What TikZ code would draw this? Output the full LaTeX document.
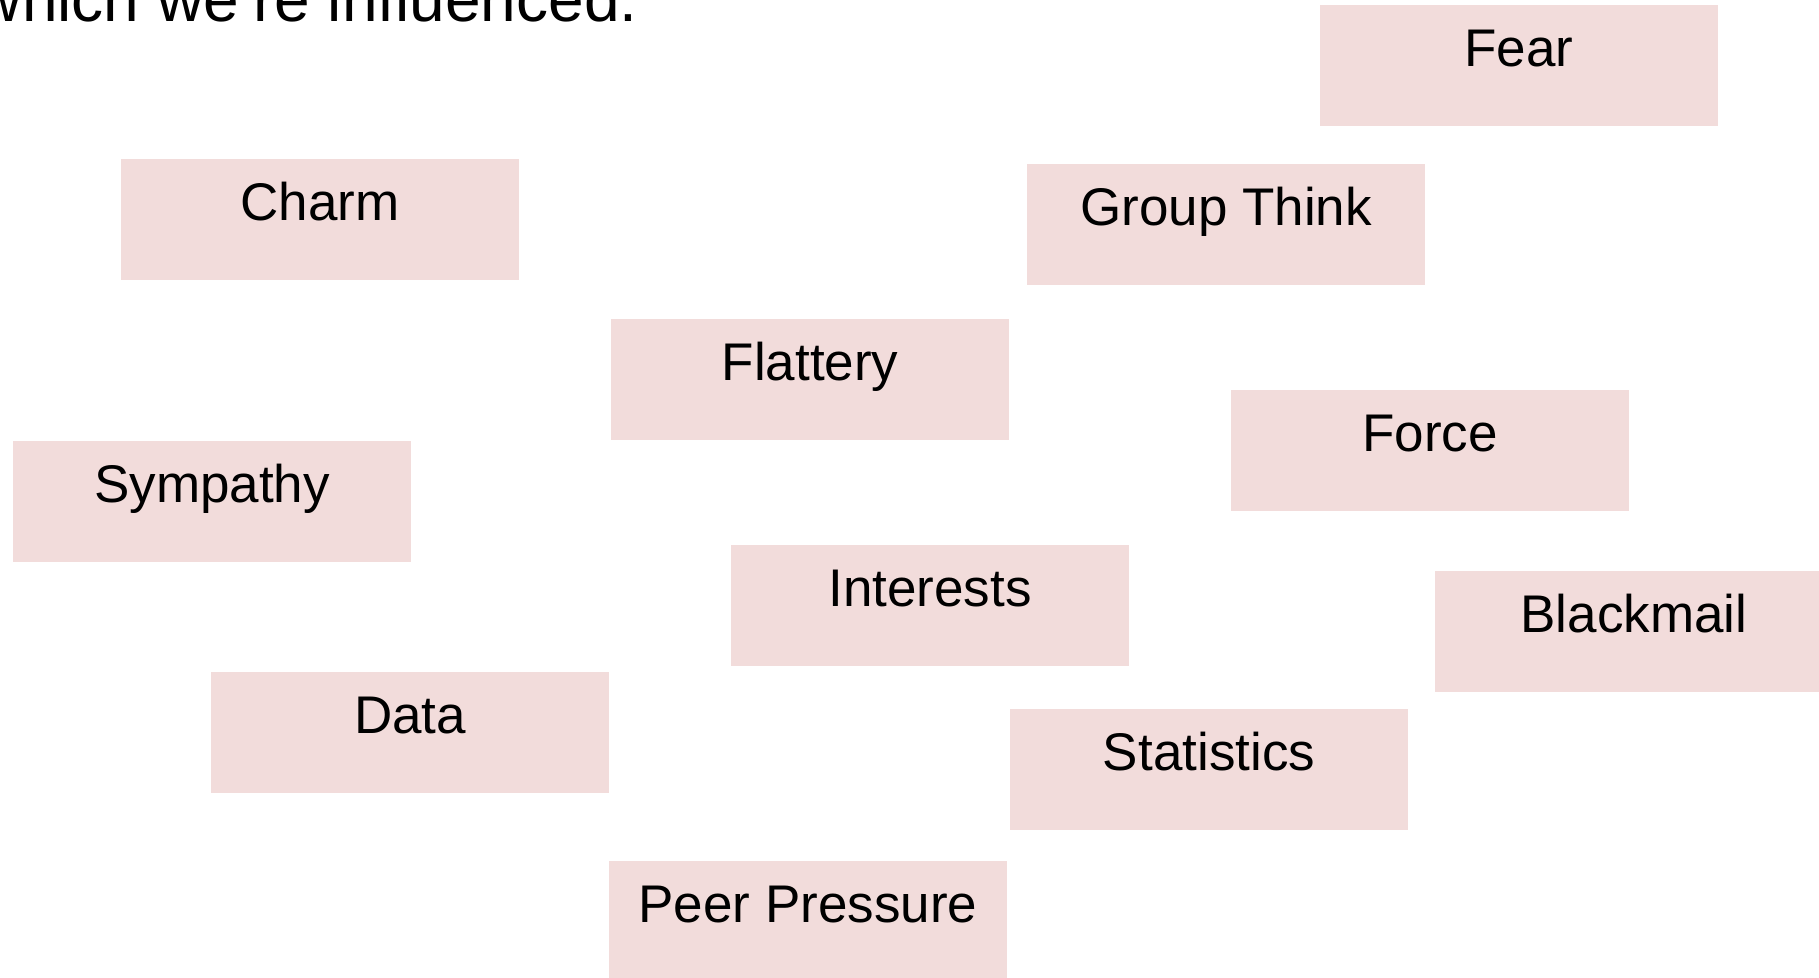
\documentclass[tikz,border=0pt]{standalone}
\usepackage{fontspec}
\setmainfont{Liberation Sans}
\definecolor{boxpink}{HTML}{F2DCDB}
\begin{document}
\begin{tikzpicture}[x=0.5pt,y=-0.5pt,
  tagbox/.style={fill=boxpink, draw=none, anchor=north, inner xsep=0pt, inner ysep=0pt,
    minimum width=199pt, text height=30.75pt, text depth=29.75pt,
    font=\fontsize{26.5pt}{32pt}\selectfont},
  headline/.style={anchor=base east, inner sep=0pt, font=\fontsize{32pt}{38pt}\selectfont}]
\useasboundingbox (0,0) rectangle (1819,978);
\clip (0,0) rectangle (1819,978);
\node[headline] (head) at (638,21.7) {which we're influenced.};
\node[tagbox] (fear) at (1519,5) {Fear};
\node[tagbox] (charm) at (320,159) {Charm};
\node[tagbox] (group) at (1226,164) {Group Think};
\node[tagbox] (flattery) at (810,319) {Flattery};
\node[tagbox] (force) at (1430,390) {Force};
\node[tagbox] (sympathy) at (212,441) {Sympathy};
\node[tagbox] (interests) at (930,545) {Interests};
\node[tagbox] (blackmail) at (1634,571) {Blackmail};
\node[tagbox] (data) at (410,672) {Data};
\node[tagbox] (statistics) at (1209,709) {Statistics};
\node[tagbox] (peer) at (808,861) {Peer Pressure};
\end{tikzpicture}
\end{document}
